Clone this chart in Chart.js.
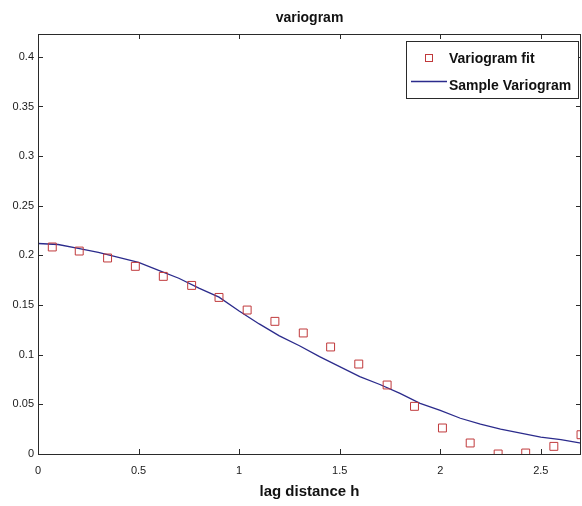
<!DOCTYPE html>
<html>
<head>
<meta charset="utf-8">
<title>variogram</title>
<script src="https://cdn.jsdelivr.net/npm/chart.js@4.4.1/dist/chart.umd.min.js"></script>
<style>
    html, body { margin: 0; padding: 0; background: #fff; }
    #wrap { width: 582px; height: 506px; }
</style>
</head>
<body>
<div id="wrap"><canvas id="chart" width="582" height="506"></canvas></div>
<script>
// values
const fitLag = [0.071, 0.205, 0.346, 0.484, 0.623, 0.764, 0.900, 1.040, 1.178, 1.319,
                1.455, 1.595, 1.736, 1.872, 2.011, 2.149, 2.288, 2.425, 2.565, 2.700];
const fitGamma = [0.2085, 0.2044, 0.1974, 0.189, 0.1789, 0.1698, 0.1577, 0.145, 0.1336, 0.1219,
                  0.1078, 0.0906, 0.0695, 0.048, 0.0262, 0.0111, 0.0, 0.001, 0.0077, 0.0194];

const sampleLag = [0, 0.1, 0.2, 0.3, 0.4, 0.5, 0.6, 0.7, 0.8, 0.9, 1.0, 1.1, 1.2, 1.3,
                   1.4, 1.5, 1.6, 1.7, 1.8, 1.9, 2.0, 2.1, 2.2, 2.3, 2.4, 2.5, 2.6, 2.7];
const sampleGamma = [0.212, 0.211, 0.207, 0.203, 0.198, 0.193, 0.185, 0.177, 0.167, 0.158,
                     0.144, 0.131, 0.119, 0.109, 0.098, 0.088, 0.078, 0.070, 0.061, 0.051,
                     0.044, 0.036, 0.030, 0.025, 0.021, 0.017, 0.0145, 0.011];

const xTicks = [0, 0.5, 1, 1.5, 2, 2.5];
const yTicks = [0, 0.05, 0.1, 0.15, 0.2, 0.25, 0.3, 0.35, 0.4];

const FONT = '"Liberation Sans", Arial, Helvetica, sans-serif';
const AXIS_COLOR = '#2a2a2a';
const FIT_COLOR = '#c0393b';
const LINE_COLOR = '#2b2b8c';

// matlab-ish frame, inward ticks, title and boxed legend
const matlabAxes = {
    id: 'matlabAxes',
    afterDraw(chart) {
        const ctx = chart.ctx;
        const { left, right, top, bottom } = chart.chartArea;
        const xs = chart.scales.x;
        const ys = chart.scales.y;
        const tl = 5;

        ctx.save();
        ctx.strokeStyle = AXIS_COLOR;
        ctx.lineWidth = 1;
        ctx.strokeRect(Math.round(left) + 0.5, Math.round(top) + 0.5,
                       Math.round(right - left) - 1, Math.round(bottom - top));

        ctx.beginPath();
        xTicks.forEach(v => {
            const px = Math.round(xs.getPixelForValue(v)) + 0.5;
            ctx.moveTo(px, bottom); ctx.lineTo(px, bottom - tl);
            ctx.moveTo(px, top); ctx.lineTo(px, top + tl);
        });
        yTicks.forEach(v => {
            const py = Math.round(ys.getPixelForValue(v)) + 0.5;
            ctx.moveTo(left, py); ctx.lineTo(left + tl, py);
            ctx.moveTo(right, py); ctx.lineTo(right - tl, py);
        });
        ctx.stroke();

        // title
        ctx.fillStyle = '#111';
        ctx.font = 'bold 14px ' + FONT;
        ctx.textAlign = 'center';
        ctx.textBaseline = 'alphabetic';
        ctx.fillText('variogram', (left + right) / 2, 22);

        // legend
        const bx = right - 175, by = top + 7, bw = 172, bh = 57;
        ctx.fillStyle = '#fff';
        ctx.fillRect(bx, by, bw, bh);
        ctx.strokeStyle = AXIS_COLOR;
        ctx.strokeRect(Math.round(bx) + 0.5, Math.round(by) + 0.5, bw, bh);

        const fit = chart.data.datasets[0];
        const smp = chart.data.datasets[1];
        ctx.font = 'bold 14px ' + FONT;
        ctx.textAlign = 'left';
        ctx.textBaseline = 'middle';

        // row 1: square marker
        ctx.strokeStyle = fit.borderColor;
        ctx.lineWidth = 1;
        ctx.strokeRect(Math.round(bx + 19) + 0.5, Math.round(by + 13) + 0.5, 7, 7);
        ctx.fillStyle = '#111';
        ctx.fillText(fit.label, bx + 43, by + 18);

        // row 2: line sample
        ctx.strokeStyle = smp.borderColor;
        ctx.lineWidth = smp.borderWidth;
        ctx.beginPath();
        ctx.moveTo(bx + 5, by + 40.5);
        ctx.lineTo(bx + 41, by + 40.5);
        ctx.stroke();
        ctx.fillText(smp.label, bx + 43, by + 45);
        ctx.restore();
    }
};

new Chart(document.getElementById('chart'), {
    type: 'scatter',
    data: {
        datasets: [
            {
                label: 'Variogram fit',
                data: fitLag.map((x, i) => ({ x, y: fitGamma[i] })),
                pointStyle: 'rect',
                pointRadius: 5.6,
                pointHoverRadius: 5.6,
                borderColor: FIT_COLOR,
                backgroundColor: 'rgba(0,0,0,0)',
                borderWidth: 1,
                showLine: false
            },
            {
                label: 'Sample Variogram',
                data: sampleLag.map((x, i) => ({ x, y: sampleGamma[i] })),
                showLine: true,
                pointRadius: 0,
                borderColor: LINE_COLOR,
                borderWidth: 1.3,
                tension: 0,
                fill: false
            }
        ]
    },
    options: {
        responsive: false,
        devicePixelRatio: 1,
        animation: false,
        events: [],
        layout: { autoPadding: false, padding: { top: 34, right: 1, left: 0, bottom: 0 } },
        plugins: {
            legend: { display: false },
            title: { display: false },
            tooltip: { enabled: false }
        },
        scales: {
            x: {
                type: 'linear',
                min: 0,
                max: 2.7,
                afterBuildTicks: scale => { scale.ticks = xTicks.map(value => ({ value })); },
                afterFit: scale => { scale.height = 52; },
                grid: { display: false, drawTicks: false },
                border: { display: false },
                ticks: {
                    padding: 10,
                    color: '#1a1a1a',
                    font: { family: FONT, size: 11 },
                    maxRotation: 0,
                    callback: v => String(v)
                },
                title: {
                    display: true,
                    text: 'lag distance h',
                    color: '#111',
                    font: { family: FONT, size: 15, weight: 'bold' },
                    padding: { top: 0, bottom: 5 }
                }
            },
            y: {
                type: 'linear',
                min: 0,
                max: 0.423,
                afterBuildTicks: scale => { scale.ticks = yTicks.map(value => ({ value })); },
                afterFit: scale => { scale.width = 38; },
                grid: { display: false, drawTicks: false },
                border: { display: false },
                ticks: {
                    padding: 4,
                    color: '#1a1a1a',
                    font: { family: FONT, size: 11 },
                    callback: v => String(v)
                }
            }
        }
    },
    plugins: [matlabAxes]
});
</script>
</body>
</html>
